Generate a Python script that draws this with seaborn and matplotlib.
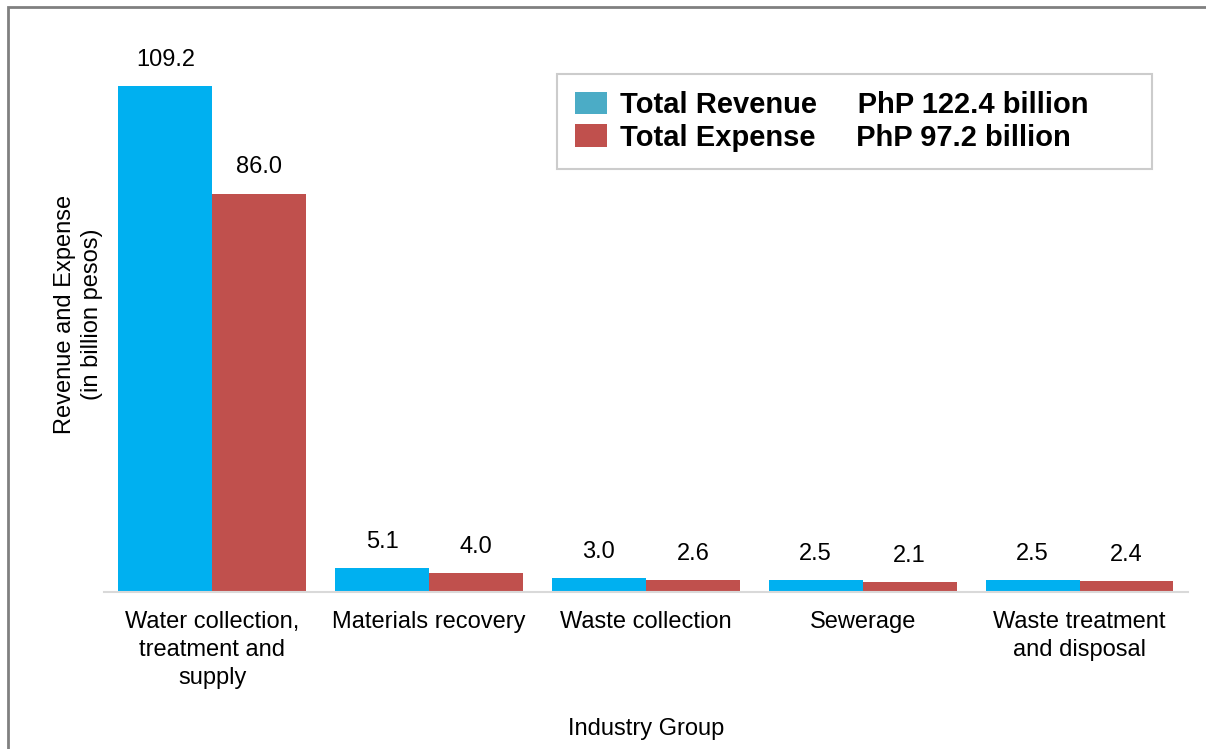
import seaborn as sns
import pandas as pd
import matplotlib.pyplot as plt
from matplotlib.patches import Rectangle

# Revenue and expense by industry group (billion pesos)
groups = ['Water collection,\ntreatment and\nsupply', 'Materials recovery',
          'Waste collection', 'Sewerage', 'Waste treatment\nand disposal']
revenue = [109.2, 5.1, 3.0, 2.5, 2.5]
expense = [86.0, 4.0, 2.6, 2.1, 2.4]
series = ['Total Revenue', 'Total Expense']
totals = ['PhP 122.4 billion', 'PhP 97.2 billion']

df = pd.DataFrame({
    'group': groups * 2,
    'value': revenue + expense,
    'kind': [series[0]] * len(groups) + [series[1]] * len(groups),
})

sns.set_style('white')
plt.rcParams['font.family'] = ['Liberation Sans', 'DejaVu Sans']
plt.rcParams['text.color'] = 'black'
plt.rcParams['axes.labelcolor'] = 'black'
plt.rcParams['xtick.color'] = 'black'

fig = plt.figure(figsize=(12.06, 7.49), dpi=100)
ax = fig.add_axes([0.0862, 0.2096, 0.8988, 0.7424])

sns.barplot(data=df, x='group', y='value', hue='kind', ax=ax,
            palette=['#00B0F0', '#C0504D'], width=0.867, saturation=1,
            linewidth=0)

for c in ax.containers:
    ax.bar_label(c, fmt='%.1f', padding=11, fontsize=17, color='black')

ax.set_ylim(0, 120)
ax.set_xlim(-0.5, 4.5)
ax.set_yticks([])
for s in ['top', 'right', 'left']:
    ax.spines[s].set_visible(False)
ax.spines['bottom'].set_color('#d9d9d9')
ax.spines['bottom'].set_linewidth(1.5)
ax.tick_params(axis='x', length=0, pad=14, labelsize=17)
for t in ax.get_xticklabels():
    t.set_linespacing(1.34)
ax.set_xlabel('Industry Group', fontsize=17, labelpad=21)
ax.set_ylabel('Revenue and Expense\n(in billion pesos)', fontsize=17,
              labelpad=0.5, linespacing=1.32)

# legend with totals
handles, _ = ax.get_legend_handles_labels()
labels = [f'{s}     {t}' for s, t in zip(series, totals)]
leg = ax.legend(handles, labels, loc='upper left', mode='expand',
                bbox_to_anchor=(0.418, 0.932 - 0.176, 0.549, 0.176),
                frameon=True, fancybox=False,
                prop={'size': 21, 'weight': 'bold'},
                handlelength=1.1, handleheight=0.8, handletextpad=0.45,
                labelspacing=0.15, borderpad=0.6, borderaxespad=0)
leg.get_frame().set_edgecolor('#c0c0c0')
leg.get_frame().set_linewidth(1.5)
leg.legend_handles[0].set_facecolor('#4BACC6')

# figure border (top and left visible)
fig.patches.append(Rectangle((8 / 1206, -0.1), 1.2, 1 - 7 / 749 + 0.1,
                             transform=fig.transFigure, fill=False,
                             edgecolor='#808080', linewidth=2))

fig.savefig('out.png', dpi=100)
